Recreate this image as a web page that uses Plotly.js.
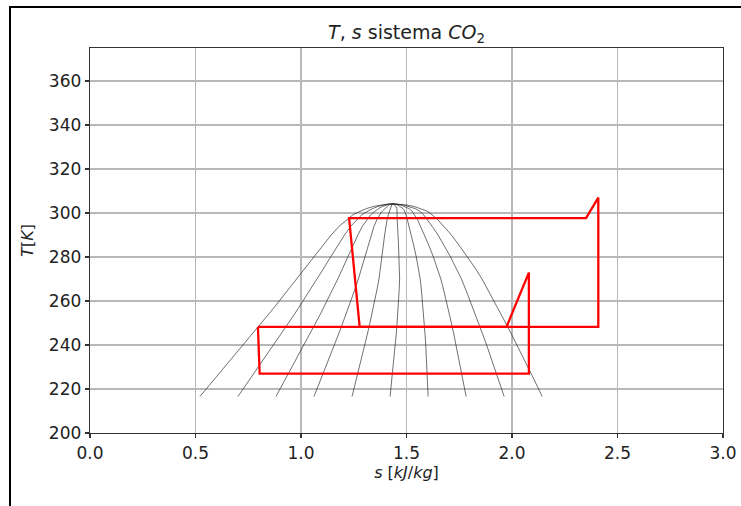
<!DOCTYPE html>
<html>
<head>
<meta charset="utf-8">
<script src="https://cdn.plot.ly/plotly-3.0.1.min.js"></script>
<style>
  html, body { margin: 0; padding: 0; background: #ffffff; }
  #chart { position: absolute; left: 0; top: 0; width: 741px; height: 506px; }
  #frame { position: absolute; left: 9px; top: 6px; width: 740px; height: 510px;
           border-top: 2px solid #000; border-left: 2px solid #000; pointer-events: none; }
</style>
</head>
<body>
<div id="chart"></div>
<div id="frame"></div>
<script>
// Saturation dome of CO2 (T in K, entropy in kJ/kg/K)
const T_sat = [216.59, 220, 225, 230, 235, 240, 245, 250, 255, 260, 265, 270, 275, 280, 285, 290, 294, 297, 299, 300, 301, 302, 303, 303.6, 304.0, 304.13];
const s_liq = [0.521, 0.551, 0.595, 0.639, 0.682, 0.726, 0.769, 0.812, 0.855, 0.897, 0.938, 0.979, 1.019, 1.059, 1.100, 1.143, 1.181, 1.216, 1.244, 1.262, 1.284, 1.310, 1.344, 1.372, 1.405, 1.432];
const s_vap = [2.143, 2.126, 2.101, 2.076, 2.050, 2.024, 1.997, 1.970, 1.943, 1.915, 1.887, 1.858, 1.825, 1.790, 1.752, 1.713, 1.676, 1.648, 1.625, 1.611, 1.594, 1.570, 1.535, 1.503, 1.466, 1.432];
// Vapour quality of the iso-quality lines inside the dome
const qualities = [0.1111, 0.2222, 0.3333, 0.4444, 0.5556, 0.6667, 0.7778, 0.8889];

// Refrigeration cycles (cascade)
const cycleHigh_s = [1.278, 1.228, 2.351, 2.409, 2.409, 1.278];
const cycleHigh_T = [248.2, 297.7, 297.7, 307.0, 248.2, 248.2];
const cycleLow_s  = [0.796, 0.804, 2.080, 2.080, 1.974, 0.796];
const cycleLow_T  = [248.2, 227.0, 227.0, 272.9, 248.2, 248.2];

// Axis ticks
const xTicks = [0.0, 0.5, 1.0, 1.5, 2.0, 2.5, 3.0];
const yTicks = [200, 220, 240, 260, 280, 300, 320, 340, 360];

const thin = {color: 'rgba(30,30,30,0.8)', width: 0.8};
const traces = [];

// dome: liquid line up, vapour line down
traces.push({
  x: s_liq.concat(s_vap.slice().reverse()),
  y: T_sat.concat(T_sat.slice().reverse()),
  mode: 'lines', line: thin, hoverinfo: 'skip', showlegend: false
});
// iso-quality lines
qualities.forEach(q => {
  traces.push({
    x: T_sat.map((t, i) => s_liq[i] + q * (s_vap[i] - s_liq[i])),
    y: T_sat,
    mode: 'lines', line: thin, hoverinfo: 'skip', showlegend: false
  });
});
// cycles
const red = {color: '#ff0000', width: 2.3};
traces.push({x: cycleHigh_s, y: cycleHigh_T, mode: 'lines', line: red, showlegend: false});
traces.push({x: cycleLow_s, y: cycleLow_T, mode: 'lines', line: red, showlegend: false});

const tickFont = {family: 'DejaVu Sans', size: 17, color: '#222'};
const layout = {
  width: 741, height: 506,
  margin: {l: 90, r: 18, t: 48, b: 73},
  paper_bgcolor: '#ffffff', plot_bgcolor: '#ffffff',
  showlegend: false,
  title: {
    text: '<i>T</i>, <i>s</i> sistema <i>CO</i><sub>2</sub>',
    font: {family: 'DejaVu Sans', size: 19, color: '#222'},
    xref: 'paper', x: 0.5, xanchor: 'center',
    yref: 'container', y: 0.937, yanchor: 'middle'
  },
  xaxis: {
    range: [0, 3], tickvals: xTicks, ticktext: xTicks.map(v => v.toFixed(1)),
    showgrid: true, gridcolor: '#b8b8b8', gridwidth: 1.1,
    zeroline: false, showline: true, mirror: true, linecolor: '#333', linewidth: 1.3,
    ticks: 'outside', ticklen: 4, tickcolor: '#333', tickwidth: 1.2,
    tickfont: tickFont,
    title: {text: '<i>s</i> [<i>kJ</i>/<i>kg</i>]', font: {family: 'DejaVu Sans', size: 16, color: '#222'}, standoff: 1}
  },
  yaxis: {
    range: [200, 375], tickvals: yTicks, ticktext: yTicks.map(String),
    showgrid: true, gridcolor: '#b8b8b8', gridwidth: 1.1,
    zeroline: false, showline: true, mirror: true, linecolor: '#333', linewidth: 1.3,
    ticks: 'outside', ticklen: 4, tickcolor: '#333', tickwidth: 1.2,
    tickfont: tickFont,
    title: {text: '<i>T</i>[<i>K</i>]', font: {family: 'DejaVu Sans', size: 16, color: '#222'}, standoff: 11}
  }
};

Plotly.newPlot('chart', traces, layout, {displayModeBar: false, staticPlot: true});
</script>
</body>
</html>
